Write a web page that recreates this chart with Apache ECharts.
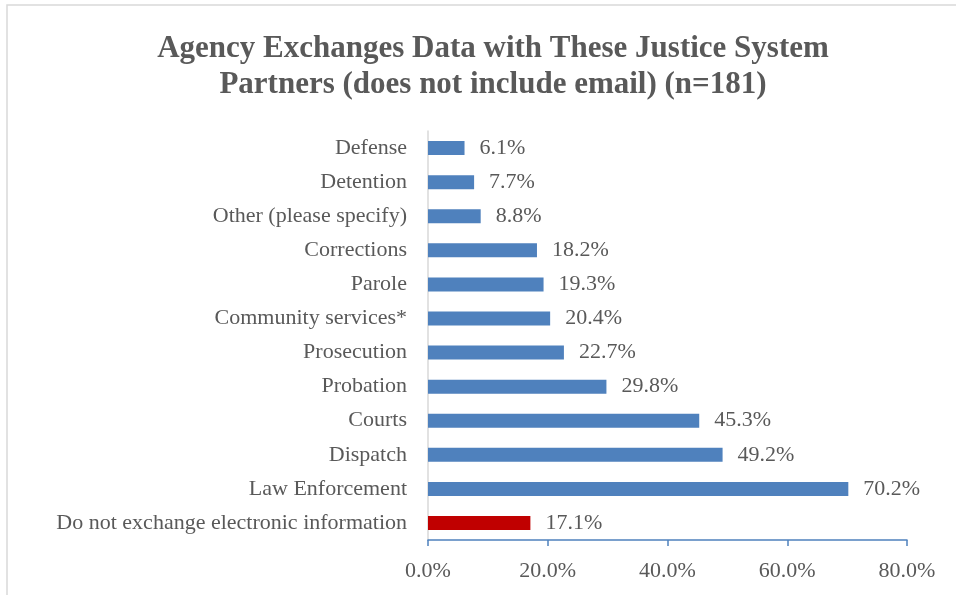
<!DOCTYPE html>
<html>
<head>
<meta charset="utf-8">
<script src="https://cdn.jsdelivr.net/npm/echarts@6/dist/echarts.min.js"></script>
<style>
html, body { margin: 0; padding: 0; background: #fff; }
#chart { width: 956px; height: 595px; }
</style>
</head>
<body>
<div id="chart"></div>
<script>
// categories bottom to top, as drawn
const categories = [
    'Do not exchange electronic information',
    'Law Enforcement',
    'Dispatch',
    'Courts',
    'Probation',
    'Prosecution',
    'Community services*',
    'Parole',
    'Corrections',
    'Other (please specify)',
    'Detention',
    'Defense'
];
const values = [17.1, 70.2, 49.2, 45.3, 29.8, 22.7, 20.4, 19.3, 18.2, 8.8, 7.7, 6.1];
const highlightIndex = 0;
const xTicks = [0, 20, 40, 60, 80];

const serif = '"Liberation Serif", "DejaVu Serif", serif';
const textColor = '#595959';

const chart = echarts.init(document.getElementById('chart'));
chart.setOption({
    animation: false,
    backgroundColor: '#fff',
    graphic: [{
        type: 'rect',
        shape: { x: 7, y: 5, width: 960, height: 600 },
        style: { fill: 'none', stroke: '#d9d9d9', lineWidth: 1.5 },
        silent: true
    }],
    title: {
        text: 'Agency Exchanges Data with These Justice System\nPartners (does not include email) (n=181)',
        left: 488,
        textAlign: 'center',
        top: 26,
        textStyle: {
            fontFamily: serif,
            fontSize: 31,
            fontWeight: 'bold',
            color: textColor,
            lineHeight: 36
        }
    },
    grid: {
        left: 428,
        right: 49,
        top: 131,
        bottom: 55,
        containLabel: false
    },
    xAxis: {
        type: 'value',
        min: xTicks[0],
        max: xTicks[xTicks.length - 1],
        interval: 20,
        axisLine: { show: true, lineStyle: { color: '#4f81bd', width: 1.5 } },
        axisTick: { show: true, length: 6, inside: false, lineStyle: { color: '#4f81bd', width: 1.5 } },
        splitLine: { show: false },
        axisLabel: {
            margin: 20,
            fontFamily: serif,
            fontSize: 22,
            color: textColor,
            formatter: (v) => v.toFixed(1) + '%'
        }
    },
    yAxis: {
        type: 'category',
        data: categories,
        axisLine: { show: true, lineStyle: { color: '#d9d9d9', width: 1.5 } },
        axisTick: { show: false },
        axisLabel: {
            margin: 21,
            fontFamily: serif,
            fontSize: 22,
            color: textColor
        }
    },
    series: [{
        type: 'bar',
        barWidth: 14,
        data: values.map((v, i) => ({
            value: v,
            itemStyle: { color: i === highlightIndex ? '#c00000' : '#4f81bd' }
        })),
        label: {
            show: true,
            position: 'right',
            distance: 15,
            fontFamily: serif,
            fontSize: 22,
            color: textColor,
            formatter: (p) => p.value.toFixed(1) + '%'
        }
    }]
});
</script>
</body>
</html>
